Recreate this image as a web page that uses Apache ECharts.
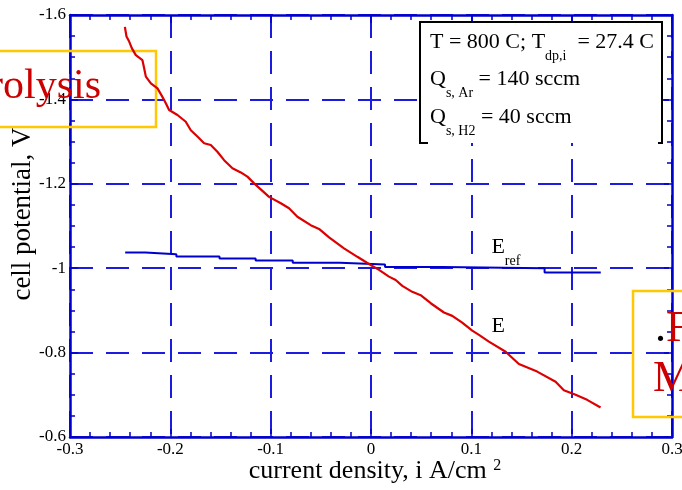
<!DOCTYPE html>
<html><head><meta charset="utf-8">
<script src="https://cdn.jsdelivr.net/npm/echarts@6/dist/echarts.min.js"></script>
<style>html,body{margin:0;padding:0;background:#fff;overflow:hidden}#c{width:682px;height:490px}</style>
</head><body><div id="c"></div>
<script>
// ---- data ----
const E_x = [-0.2453,-0.2437,-0.2410,-0.2383,-0.2344,-0.2278,-0.2261,-0.2244,-0.2194,-0.2128,-0.2079,-0.2045,-0.2012,-0.1929,-0.1846,-0.1796,-0.1730,-0.1663,-0.1597,-0.1531,-0.1464,-0.1381,-0.1298,-0.1232,-0.1165,-0.1016,-0.0899,-0.0817,-0.0734,-0.0601,-0.0518,-0.0418,-0.0269,-0.0136,-0.0020,0.0080,0.0179,0.0246,0.0312,0.0411,0.0495,0.0595,0.0727,0.0810,0.0909,0.1009,0.1076,0.1175,0.1342,0.1474,0.1656,0.1840,0.1922,0.2039,0.2154,0.2288];
const E_y = [-1.572,-1.549,-1.537,-1.521,-1.505,-1.493,-1.474,-1.454,-1.438,-1.426,-1.406,-1.391,-1.375,-1.363,-1.347,-1.327,-1.312,-1.296,-1.292,-1.276,-1.256,-1.237,-1.227,-1.217,-1.201,-1.169,-1.154,-1.142,-1.122,-1.102,-1.093,-1.073,-1.047,-1.027,-1.010,-0.996,-0.980,-0.972,-0.958,-0.944,-0.936,-0.917,-0.895,-0.887,-0.871,-0.852,-0.842,-0.826,-0.802,-0.773,-0.755,-0.731,-0.711,-0.700,-0.688,-0.670];
const Eref_x = [-0.245,-0.225,-0.194,-0.151,-0.115,-0.078,-0.031,0.014,0.071,0.173,0.229];
const Eref_y = [-1.037,-1.033,-1.028,-1.023,-1.018,-1.013,-1.009,-1.003,-1.000,-0.990,-0.990];
const xTickValues = [-0.3,-0.2,-0.1,0,0.1,0.2,0.3];
const xTickLabels = ['-0.3','-0.2','-0.1','0','0.1','0.2','0.3'];
const yTickValues = [-1.6,-1.4,-1.2,-1,-0.8,-0.6];
const yTickLabels = ['-1.6','-1.4','-1.2','-1','-0.8','-0.6'];
const xTitle = 'current density, i A/cm ';
const xTitleSup = '2';
const yTitle = 'cell potential, V';
const labelE = 'E';
const labelERefSub = 'ref';
const labelPosERef = [0.12, -1.031];   // baseline anchor of "E_ref"
const labelPosE = [0.12, -0.846];      // baseline anchor of "E"
const infoLines = [
  [['T = 800 C; T', 0], ['dp,i', 1], ['  = 27.4 C', 0]],
  [['Q', 0], ['s, Ar', 1], [' = 140 sccm', 0]],
  [['Q', 0], ['s, H2', 1], [' = 40 sccm', 0]]
];

// ---- styles ----
const FONT = '"Liberation Serif", "Times New Roman", serif';
const BLUE = '#0000cc';
const GRID_BLUE = '#1c1ce0';
const RED = '#dd0000';
const TXT_RED = '#cc0000';
const YELLOW = '#ffc800';
const MAIN_SIZE = 22, SUB_SIZE = 14, SUB_DROP = 11;

function lookup(vals, labels) {
  return function (v) {
    for (let i = 0; i < vals.length; i++) if (Math.abs(vals[i] - v) < 1e-9) return labels[i];
    return '';
  };
}

const mctx = document.createElement('canvas').getContext('2d');
function textW(t, size) { mctx.font = size + 'px ' + FONT; return mctx.measureText(t).width; }

// builds text elements for a line with subscripts, given left x and baseline y
function subLine(x, base, parts, z) {
  const els = [];
  let cx = x;
  parts.forEach(([t, sub]) => {
    const size = sub ? SUB_SIZE : MAIN_SIZE;
    const b = sub ? base + SUB_DROP : base;
    els.push({type: 'text', z: z, x: cx, y: b - 0.3375 * size,
      style: {text: t, fill: '#000', font: size + 'px ' + FONT, textAlign: 'left', textVerticalAlign: 'middle'}});
    cx += textW(t, size);
  });
  return els;
}

const chart = echarts.init(document.getElementById('c'), null, {renderer: 'canvas'});

const baseAxisLine = {show: true, onZero: false, lineStyle: {color: BLUE, width: 2.5}};
const splitLine = {show: true, lineStyle: {color: GRID_BLUE, width: 2, type: [23, 13]}};

chart.setOption({
  animation: false,
  backgroundColor: '#fff',
  grid: {left: 70, right: 10, top: 15, bottom: 53, containLabel: false, outerBoundsMode: 'none'},
  xAxis: [{
    type: 'value', min: -0.3, max: 0.3, interval: 0.1, position: 'bottom',
    axisLine: baseAxisLine,
    axisTick: {show: true, inside: true, length: 8, lineStyle: {color: BLUE, width: 1.5}},
    minorTick: {show: true, splitNumber: 5, length: 5, lineStyle: {color: BLUE, width: 1.5}},
    splitLine: splitLine,
    axisLabel: {show: true, color: '#000', fontFamily: FONT, fontSize: 17, margin: 4, formatter: lookup(xTickValues, xTickLabels)},
    name: '{a|' + xTitle + '}{s|' + xTitleSup + '}',
    nameLocation: 'middle', nameGap: 21, nameMoveOverlap: false,
    nameTextStyle: {padding: [0, 0, 0, 8], rich: {
      a: {fontFamily: FONT, fontSize: 26, color: '#000', verticalAlign: 'bottom'},
      s: {fontFamily: FONT, fontSize: 16, color: '#000', verticalAlign: 'top'}
    }}
  }, {
    type: 'value', min: -0.3, max: 0.3, interval: 0.1, position: 'top',
    axisLine: baseAxisLine,
    axisTick: {show: true, inside: true, length: 8, lineStyle: {color: BLUE, width: 1.5}},
    minorTick: {show: true, splitNumber: 5, length: 5, lineStyle: {color: BLUE, width: 1.5}},
    splitLine: {show: false}, axisLabel: {show: false}
  }],
  yAxis: [{
    type: 'value', inverse: true, min: -1.6, max: -0.6, interval: 0.2, position: 'left',
    axisLine: baseAxisLine,
    axisTick: {show: true, inside: true, length: 8, lineStyle: {color: BLUE, width: 1.5}},
    minorTick: {show: true, splitNumber: 4, length: 5, lineStyle: {color: BLUE, width: 1.5}},
    splitLine: splitLine,
    axisLabel: {show: true, color: '#000', fontFamily: FONT, fontSize: 17, margin: 4, formatter: lookup(yTickValues, yTickLabels)},
    name: yTitle, nameLocation: 'middle', nameGap: 34, nameMoveOverlap: false,
    nameTextStyle: {fontFamily: FONT, fontSize: 27, color: '#000', padding: [0, 0, 0, 24]}
  }, {
    type: 'value', inverse: true, min: -1.6, max: -0.6, interval: 0.2, position: 'right',
    axisLine: baseAxisLine,
    axisTick: {show: true, inside: true, length: 8, lineStyle: {color: BLUE, width: 1.5}},
    minorTick: {show: true, splitNumber: 4, length: 5, lineStyle: {color: BLUE, width: 1.5}},
    splitLine: {show: false}, axisLabel: {show: false}
  }],
  series: [{
    type: 'line', name: 'E', xAxisIndex: 0, yAxisIndex: 0,
    data: E_x.map((x, i) => [x, E_y[i]]),
    showSymbol: false, symbol: 'none',
    lineStyle: {color: RED, width: 2.2}, z: 5
  }, {
    type: 'line', name: 'Eref', xAxisIndex: 0, yAxisIndex: 0,
    data: Eref_x.map((x, i) => [x, Eref_y[i]]),
    step: 'end', showSymbol: false, symbol: 'none',
    lineStyle: {color: BLUE, width: 2}, z: 4
  }]
});

const pERef = chart.convertToPixel({xAxisIndex: 0, yAxisIndex: 0}, labelPosERef);
const pE = chart.convertToPixel({xAxisIndex: 0, yAxisIndex: 0}, labelPosE);

const graphics = [
  // left cut-off text box
  {type: 'rect', z: 3, shape: {x: -5, y: 51, width: 161, height: 76}, style: {fill: 'none', stroke: YELLOW, lineWidth: 2.5}},
  {type: 'text', z: 3, x: 101, y: 87, style: {text: 'rolysis', fill: TXT_RED, font: '42px ' + FONT, textAlign: 'right', textVerticalAlign: 'middle'}},
  // right cut-off text box
  {type: 'rect', z: 1, shape: {x: 633, y: 291, width: 80, height: 126}, style: {fill: 'none', stroke: YELLOW, lineWidth: 2.5}},
  {type: 'text', z: 3, x: 655, y: 329, style: {text: '.', fill: '#000', font: '44px ' + FONT, textAlign: 'left', textVerticalAlign: 'middle'}},
  {type: 'text', z: 3, x: 655 + textW('.', 44), y: 329, style: {text: 'F', fill: TXT_RED, font: '44px ' + FONT, textAlign: 'left', textVerticalAlign: 'middle'}},
  {type: 'text', z: 3, x: 653, y: 379, style: {text: 'M', fill: TXT_RED, font: '44px ' + FONT, textAlign: 'left', textVerticalAlign: 'middle'}},
  // info box
  {type: 'rect', z: 10, shape: {x: 420, y: 22, width: 242, height: 121}, style: {fill: '#fff', stroke: null}},
  {type: 'polyline', z: 11, shape: {points: [[428, 143], [420, 143], [420, 22], [662, 22], [662, 143], [658, 143]]}, style: {fill: 'none', stroke: '#000', lineWidth: 2}}
];
const infoBaselines = [50, 87, 125];
infoLines.forEach((parts, i) => { graphics.push(...subLine(430, infoBaselines[i], parts, 11)); });
graphics.push(...subLine(pERef[0], pERef[1], [[labelE, 0], [labelERefSub, 1]], 11));
graphics.push(...subLine(pE[0], pE[1], [[labelE, 0]], 11));

chart.setOption({graphic: graphics});
</script>
</body></html>
